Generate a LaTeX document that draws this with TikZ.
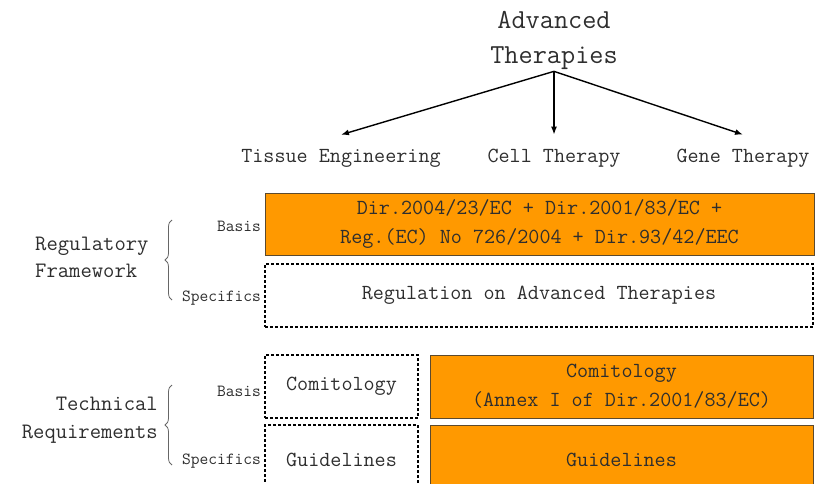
\documentclass[tikz,border=0pt]{standalone}
\usetikzlibrary{decorations.pathreplacing, arrows.meta}
\definecolor{boxorange}{HTML}{FF9900}
\definecolor{boxedge}{HTML}{5C4A2E}
\definecolor{inkgray}{HTML}{2E2E2E}

\begin{document}
\begin{tikzpicture}[x=1pt, y=-1pt, >={Latex[length=8pt, width=6pt]},
    txt/.style={font=\ttfamily\fontsize{21.5}{29}\selectfont, align=center, inner sep=0pt, text=inkgray},
    sidetag/.style={font=\ttfamily\fontsize{17}{19}\selectfont, anchor=east, inner sep=1pt, text=inkgray},
    fullbox/.style={txt, fill=boxorange, draw=boxedge, line width=0.8pt},
    openbox/.style={txt, draw=black, line width=1.2pt, dash pattern=on 3pt off 2pt},
    fan/.style={->, line width=1.4pt},
    curly/.style={decorate, decoration={brace, amplitude=7pt}, draw=gray!80!black, line width=0.8pt}]

    \clip (0,0) rectangle (821,484);

    % 1. Title and the three branches
    \node[txt, font=\ttfamily\fontsize{27.5}{35}\selectfont, inner sep=2pt] (adv) at (554,40) {Advanced\\Therapies};
    \node[txt] (tissue) at (341,158) {Tissue Engineering};
    \node[txt] (cell) at (554,158) {Cell Therapy};
    \node[txt] (gene) at (743,158) {Gene Therapy};

    \draw[fan] (adv.south) -- ([yshift=14pt]tissue.north);
    \draw[fan] (adv.south) -- ([yshift=14pt]cell.north);
    \draw[fan] (adv.south) -- ([yshift=14pt]gene.north);

    % 2. Regulatory framework
    \node[fullbox, minimum width=549pt, minimum height=62pt] (regbasis) at (539.5,224)
        {Dir.2004/23/EC + Dir.2001/83/EC +\\Reg.(EC) No 726/2004 + Dir.93/42/EEC};
    \node[openbox, minimum width=548pt, minimum height=63pt] (regspec) at (539,295.5)
        {Regulation on Advanced Therapies};

    \node[sidetag] (regtagb) at (262,226) {Basis};
    \node[sidetag] (regtags) at (262,298) {Specifics};
    \draw[curly] (172,300) -- (172,220);
    \node[txt, align=left, anchor=west, font=\ttfamily\fontsize{22}{27}\selectfont] (regtitle) at (35,257)
        {Regulatory\\Framework};

    % 3. Technical requirements
    \node[openbox, minimum width=153pt, minimum height=63pt] (techbasis) at (341.5,386.5) {Comitology};
    \node[openbox, minimum width=153pt, minimum height=70pt] (techspec) at (341.5,460) {Guidelines};
    \node[fullbox, minimum width=383pt, minimum height=63pt] (annex) at (621.5,386.5)
        {Comitology\\(Annex I of Dir.2001/83/EC)};
    \node[fullbox, minimum width=383pt, minimum height=70pt] (guide) at (621.5,460) {Guidelines};

    \node[sidetag] (techtagb) at (262,391) {Basis};
    \node[sidetag] (techtags) at (262,461) {Specifics};
    \draw[curly] (172,465) -- (172,385);
    \node[txt, align=right, anchor=east, font=\ttfamily\fontsize{22}{28}\selectfont] (techtitle) at (158,420)
        {Technical\\Requirements};

\end{tikzpicture}
\end{document}
